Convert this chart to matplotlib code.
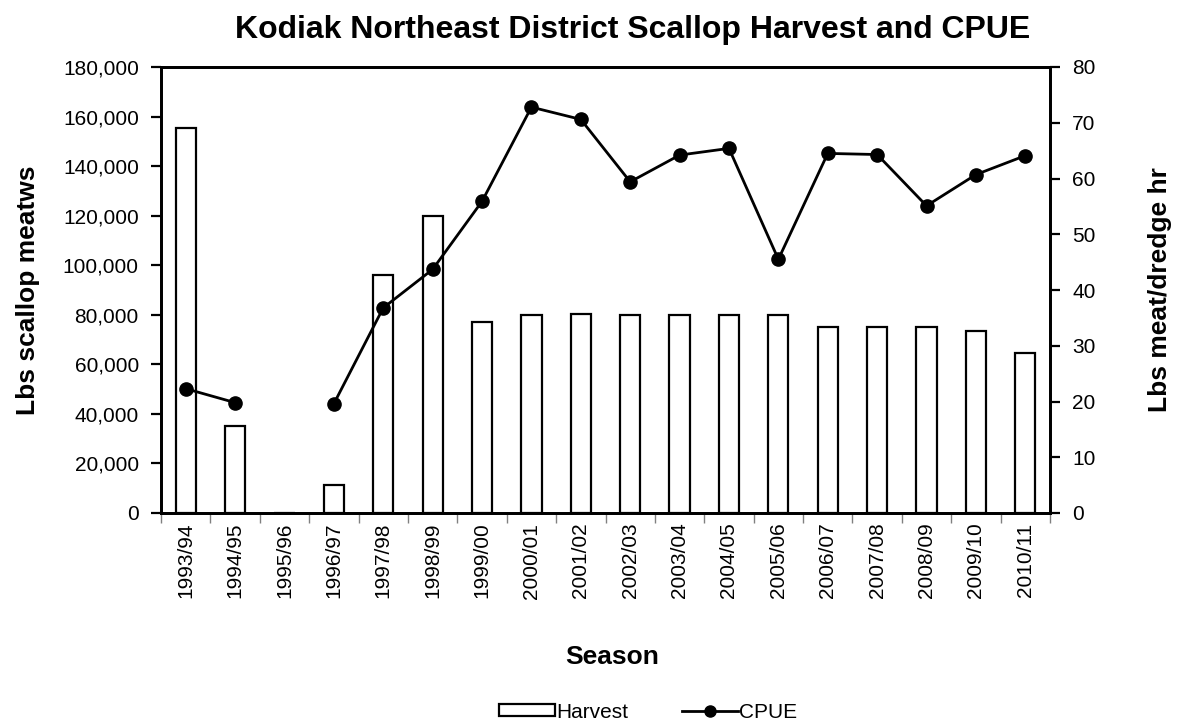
import numpy as np
import matplotlib
matplotlib.use("Agg")
import matplotlib.pyplot as plt
from matplotlib.ticker import FuncFormatter, MultipleLocator, FixedLocator
from matplotlib.lines import Line2D
from matplotlib.patches import Patch

plt.rcParams['font.family'] = ['Liberation Sans', 'DejaVu Sans']

seasons = ["1993/94", "1994/95", "1995/96", "1996/97", "1997/98", "1998/99",
           "1999/00", "2000/01", "2001/02", "2002/03", "2003/04", "2004/05",
           "2005/06", "2006/07", "2007/08", "2008/09", "2009/10", "2010/11"]
harvest = [155500, 35000, 0, 11300, 96000, 120000,
           77100, 80000, 80500, 80000, 80000, 80000,
           80000, 75200, 75200, 75000, 73300, 64400]
cpue = [22.3, 19.8, np.nan, 19.6, 36.8, 43.7,
        55.9, 72.8, 70.6, 59.4, 64.2, 65.4,
        45.5, 64.5, 64.3, 55.1, 60.7, 64.1]

W, H = 1181, 726
fig = plt.figure(figsize=(W / 100, H / 100), dpi=100)
left, right, top, bottom = 161, 1050, 67, 513
ax = fig.add_axes([left / W, 1 - bottom / H, (right - left) / W, (bottom - top) / H])

TICK_FS = 15
LABEL_FS = 19

x = np.arange(len(seasons))
ax.bar(x, harvest, width=0.41, facecolor='white', edgecolor='black', linewidth=1.6, zorder=2)
ax.set_xlim(-0.5, len(seasons) - 0.5)
ax.set_ylim(0, 180000)
ax.yaxis.set_major_locator(MultipleLocator(20000))
ax.yaxis.set_major_formatter(FuncFormatter(lambda v, p: f"{int(v):,}"))

ax.set_xticks(x)
ax.set_xticklabels(seasons, rotation=90, fontsize=TICK_FS)
ax.tick_params(axis='x', which='major', length=0, pad=7)
ax.xaxis.set_minor_locator(FixedLocator(np.arange(-0.5, len(seasons), 1.0)))
ax.tick_params(axis='x', which='minor', length=7, width=1, color='#808080', direction='out')
ax.tick_params(axis='y', labelsize=TICK_FS, length=7, width=1.6, direction='out', pad=9)
for s in ax.spines.values():
    s.set_linewidth(2)

ax2 = ax.twinx()
ax2.plot(x, cpue, color='black', linewidth=2, marker='o', markersize=9.5, zorder=3)
ax2.set_ylim(0, 80)
ax2.yaxis.set_major_locator(MultipleLocator(10))
ax2.tick_params(axis='y', labelsize=TICK_FS, length=7, width=1.6, direction='out', pad=9)
for s in ax2.spines.values():
    s.set_linewidth(2)

ax.set_ylabel("Lbs scallop meatws", fontsize=LABEL_FS, fontweight='bold', va='center', ha='center')
ax.yaxis.set_label_coords((28 - left) / (right - left), 0.5)
ax2.set_ylabel("Lbs meat/dredge hr", fontsize=LABEL_FS, fontweight='bold', va='center', ha='center')
ax2.yaxis.set_label_coords((1160 - left) / (right - left), 0.5)
ax.set_xlabel("Season", fontsize=LABEL_FS, fontweight='bold', va='center', ha='center')
ax.xaxis.set_label_coords((612 - left) / (right - left), -(657 - bottom) / (bottom - top))

fig.text(633 / W, 1 - 30 / H, "Kodiak Northeast District Scallop Harvest and CPUE",
         fontsize=23, fontweight='bold', ha='center', va='center')

handles = [Patch(facecolor='white', edgecolor='black', linewidth=1.6, label='Harvest'),
           Line2D([0], [0], color='black', linewidth=2, marker='o', markersize=8, label='CPUE')]
fig.legend(handles=handles, loc='center', bbox_to_anchor=(648 / W, 1 - 712 / H), ncol=2,
           frameon=False, fontsize=TICK_FS, handlelength=2.7, handleheight=0.55,
           handletextpad=0.05, columnspacing=2.6)

fig.savefig("out.png", dpi=100)
